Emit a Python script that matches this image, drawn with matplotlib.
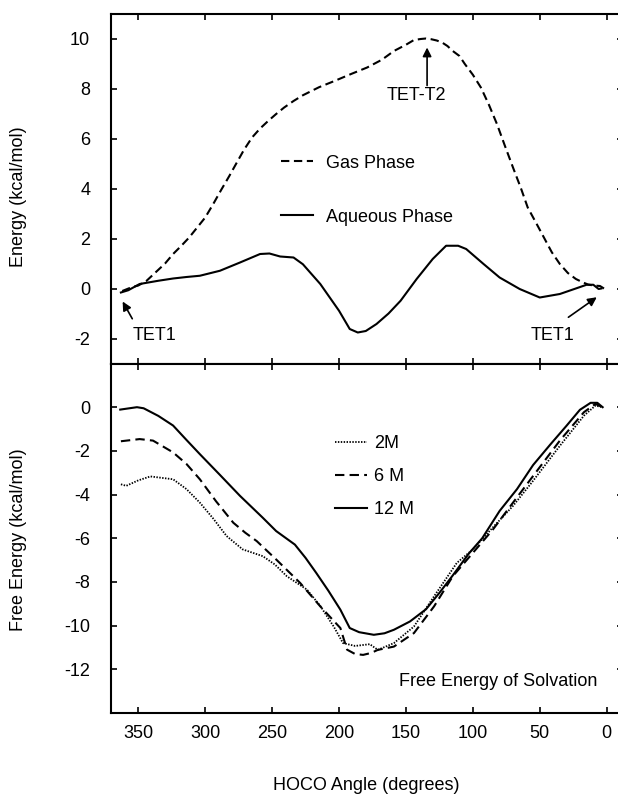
import matplotlib
matplotlib.use("Agg")
import matplotlib.pyplot as plt

plt.rcParams['font.family'] = ['Liberation Sans', 'DejaVu Sans']
plt.rcParams['font.size'] = 13
plt.rcParams['axes.unicode_minus'] = False

# top panel: energy along the HOCO angle
gas_x = [362, 355, 350, 344, 337, 330, 324, 318, 312, 306, 300, 294, 288, 282, 277, 271,
         265, 259, 253, 247, 241, 234, 227, 215, 203, 191, 179, 168, 159, 150, 144, 139,
         135, 131, 127, 123, 119, 115, 110, 106, 100, 94, 88, 82, 76, 70, 64, 59, 52, 47,
         41, 35, 29, 23, 18, 14, 10, 5, 2]
gas_y = [-0.1, 0.05, 0.12, 0.3, 0.65, 1.0, 1.38, 1.7, 2.04, 2.44, 2.84, 3.38, 3.95, 4.5,
         4.98, 5.55, 6.04, 6.4, 6.7, 6.98, 7.24, 7.5, 7.73, 8.05, 8.31, 8.58, 8.84, 9.15,
         9.5, 9.75, 9.94, 9.98, 10.0, 9.97, 9.92, 9.84, 9.7, 9.5, 9.3, 8.98, 8.55, 8.04,
         7.35, 6.58, 5.7, 4.84, 4.0, 3.24, 2.55, 2.05, 1.45, 0.98, 0.62, 0.38, 0.25, 0.16,
         0.12, 0.1, 0.0]

aq_x = [363, 357.5, 349, 335, 324, 314, 304, 289, 274, 259, 252, 244, 234, 227, 214, 200,
        192, 186, 180, 172, 163, 154, 142, 130, 120, 111, 105, 92, 80, 65, 50, 35, 22, 15,
        10, 6, 4]
aq_y = [-0.16, -0.07, 0.18, 0.31, 0.4, 0.46, 0.51, 0.71, 1.04, 1.38, 1.4, 1.28, 1.24, 0.97,
        0.18, -0.89, -1.62, -1.76, -1.7, -1.42, -1.0, -0.49, 0.38, 1.18, 1.71, 1.71, 1.58,
        0.98, 0.44, -0.02, -0.36, -0.22, 0.02, 0.15, 0.15, -0.02, 0.0]

# bottom panel: free energy of solvation
m12_x = [363.5, 351, 346, 335, 324, 314, 304, 289, 274, 257, 247, 233, 225, 217, 208, 199,
         192, 185, 174, 166, 159, 147, 135, 125, 115, 103, 93, 80, 67, 55, 42, 30, 20, 12,
         7, 3]
m12_y = [-0.11, 0.0, -0.05, -0.4, -0.84, -1.5, -2.15, -3.1, -4.06, -5.06, -5.67, -6.29,
         -6.9, -7.59, -8.4, -9.27, -10.11, -10.3, -10.42, -10.35, -10.19, -9.81, -9.25,
         -8.5, -7.7, -6.7, -6.0, -4.75, -3.75, -2.65, -1.7, -0.85, -0.12, 0.2, 0.2, 0.0]

m6_x = [363, 349, 339, 324, 314, 304, 292, 279, 270, 261.5, 247, 229, 214, 199, 194, 188,
        182, 176, 171, 159, 144, 129, 115, 100, 85, 70, 53, 35, 17, 8.5, 3]
m6_y = [-1.56, -1.46, -1.53, -2.07, -2.6, -3.3, -4.3, -5.29, -5.75, -6.13, -6.97, -8.05,
        -9.12, -10.11, -11.1, -11.3, -11.34, -11.25, -11.11, -10.96, -10.34, -9.12, -7.74,
        -6.67, -5.6, -4.37, -2.99, -1.53, -0.23, 0.15, 0.0]

m2_x = [363, 359, 350, 341, 324, 314, 304, 294, 284, 272, 257, 248, 239, 224, 214, 204,
        197, 188, 177, 171, 159, 144, 129, 112, 100, 85, 70, 56, 35, 17, 8.5, 3]
m2_y = [-3.53, -3.6, -3.35, -3.17, -3.3, -3.75, -4.37, -5.1, -5.9, -6.51, -6.82, -7.2,
        -7.74, -8.35, -9.1, -10.04, -10.8, -10.93, -10.85, -11.11, -10.8, -10.04, -8.66,
        -7.13, -6.51, -5.5, -4.52, -3.45, -1.77, -0.39, 0.07, 0.0]

x_ticks = [350, 300, 250, 200, 150, 100, 50, 0]
top_yticks = [-2, 0, 2, 4, 6, 8, 10]
bot_yticks = [-12, -10, -8, -6, -4, -2, 0]

fig = plt.figure(figsize=(6.18, 7.98), dpi=100)
W, H = 618, 798
left, right = 111, 623
ax1 = fig.add_axes([left / W, 1 - 363.5 / H, (right - left) / W, 350 / H])
ax2 = fig.add_axes([left / W, 1 - 713 / H, (right - left) / W, 349.5 / H])

lw = 1.5
ax1.plot(gas_x, gas_y, color='black', lw=lw, ls=(0, (4, 2.2)), label='Gas Phase')
ax1.plot(aq_x, aq_y, color='black', lw=lw, ls='-', label='Aqueous Phase')

ax2.plot(m2_x, m2_y, color='black', lw=1.3, ls=(0, (0.8, 0.8)), label='2M')
ax2.plot(m6_x, m6_y, color='black', lw=lw, ls=(0, (4.5, 2.5)), label='6 M')
ax2.plot(m12_x, m12_y, color='black', lw=lw, ls='-', label='12 M')

for ax in (ax1, ax2):
    ax.set_xlim(370.4, -12.2)
    ax.set_xticks(x_ticks)
    for s in ax.spines.values():
        s.set_linewidth(1.5)
    ax.tick_params(direction='in', length=4.5, width=1.2, top=True, right=True,
                   labelsize=13)
    ax.tick_params(axis='y', pad=15)
    ax.tick_params(axis='x', pad=9)

ax1.set_ylim(-3, 11)
ax1.set_yticks(top_yticks)
ax1.tick_params(labelbottom=False)
ax2.set_ylim(-14, 2)
ax2.set_yticks(bot_yticks)

ax1.set_ylabel('Energy (kcal/mol)', fontsize=13)
ax1.yaxis.set_label_coords((19 - left) / (right - left), (363.5 - 197) / 350)
ax2.set_ylabel('Free Energy (kcal/mol)', fontsize=13)
ax2.yaxis.set_label_coords((19 - left) / (right - left), (713 - 540) / 349.5)
for ax in (ax1, ax2):
    ax.yaxis.label.set_va('center')
ax2.set_xlabel('HOCO Angle (degrees)', fontsize=13)
ax2.xaxis.set_label_coords((366 - left) / (right - left), (713 - 786) / 349.5)
ax2.xaxis.label.set_va('center')

ax1.legend(loc='upper left', bbox_to_anchor=((281 - left) / (right - left), (363.5 - 154.5) / 350),
           frameon=False, borderpad=0, handlelength=1.75, handletextpad=0.75,
           labelspacing=2.05, fontsize=13, borderaxespad=0)
ax2.legend(loc='upper left', bbox_to_anchor=((335 - left) / (right - left), (713 - 435) / 349.5),
           frameon=False, borderpad=0, handlelength=1.75, handletextpad=0.4,
           labelspacing=0.9, fontsize=13, borderaxespad=0)

arrow = dict(arrowstyle='-|>', color='black', lw=1.2, mutation_scale=13,
             shrinkA=0, shrinkB=0)
ax1.annotate('', xy=(134.2, 9.64), xytext=(134.2, 8.12), arrowprops=arrow)
ax1.text(142.5, 7.72, 'TET-T2', ha='center', va='center', fontsize=13)
ax1.annotate('', xy=(361.7, -0.52), xytext=(354.5, -1.21), arrowprops=arrow)
ax1.text(337.9, -1.9, 'TET1', ha='center', va='center', fontsize=13)
ax1.annotate('', xy=(7.4, -0.35), xytext=(28.6, -1.15), arrowprops=arrow)
ax1.text(40.8, -1.9, 'TET1', ha='center', va='center', fontsize=13)

ax2.text(7.2, -12.57, 'Free Energy of Solvation', ha='right', va='center', fontsize=13)

fig.savefig('out.png', dpi=100)
